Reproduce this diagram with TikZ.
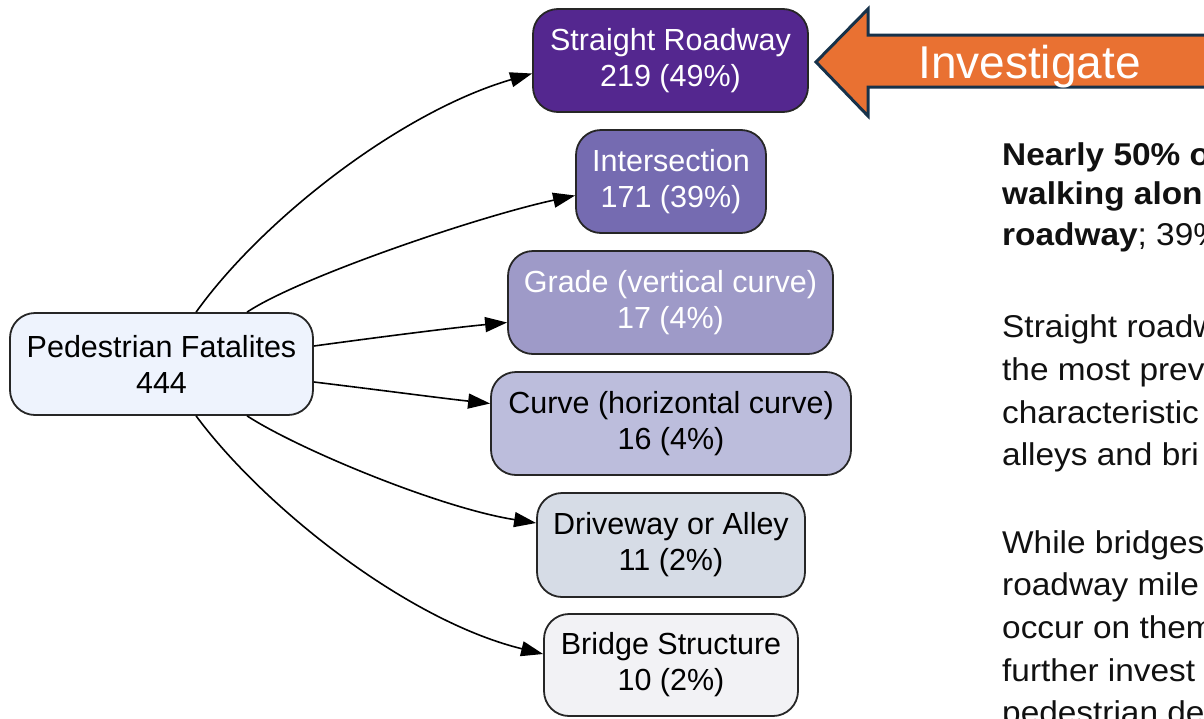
\documentclass[tikz,border=0pt]{standalone}
\usepackage{fontspec}
\setmainfont{Liberation Sans}
\newfontfamily\bodyfont[FakeStretch=1.06]{Liberation Sans}
\usetikzlibrary{arrows.meta,calc}
\definecolor{srcfill}{HTML}{EEF3FD}
\definecolor{fillA}{HTML}{54278F}
\definecolor{fillB}{HTML}{756BB1}
\definecolor{fillC}{HTML}{9E9AC8}
\definecolor{fillD}{HTML}{BCBDDC}
\definecolor{fillE}{HTML}{D6DCE6}
\definecolor{fillF}{HTML}{F2F2F5}
\definecolor{boxline}{HTML}{262626}
\definecolor{invorange}{HTML}{E97132}
\definecolor{invline}{HTML}{17324A}
\definecolor{bodytext}{HTML}{111111}
\begin{document}
\begin{tikzpicture}[x=1pt,y=-1pt,
  box/.style={draw=boxline, line width=1.8pt, rounded corners=25pt, align=center,
    font=\fontsize{30.5}{36}\selectfont, inner sep=0pt, minimum height=103pt},
  link/.style={-{Triangle[length=22pt,width=15pt]}, line width=1.6pt, black},
  body/.style={anchor=base west, inner sep=0pt, font=\bodyfont\fontsize{31.5}{36}\selectfont, text=bodytext}]
\useasboundingbox (0,0) rectangle (1204,718);
\clip (0,0) rectangle (1204,718);
\fill[white] (0,0) rectangle (1204,718);

% nodes
\node[box, fill=srcfill, text=black, minimum width=303pt, minimum height=102pt] (src) at (161.5,364) {Pedestrian Fatalites\\444};
\node[box, fill=fillA, text=white, minimum width=275pt] (s1) at (670.5,60.5) {Straight Roadway\\219 (49\%)};
\node[box, fill=fillB, text=white, minimum width=190pt] (s2) at (671,181.5) {Intersection\\171 (39\%)};
\node[box, fill=fillC, text=white, minimum width=325pt] (s3) at (670.5,302.5) {Grade (vertical curve)\\17 (4\%)};
\node[box, fill=fillD, text=black, minimum width=360pt] (s4) at (671,423.5) {Curve (horizontal curve)\\16 (4\%)};
\node[box, fill=fillE, text=black, minimum width=268pt, minimum height=104pt] (s5) at (671,545) {Driveway or Alley\\11 (2\%)};
\node[box, fill=fillF, text=black, minimum width=254pt, minimum height=102pt] (s6) at (671,665) {Bridge Structure\\10 (2\%)};

% connectors
\draw[link] ($(src.north west)+(187,0)$) .. controls (262,220) and (400,112) .. ($(s1.west)+(0,13)$);
\draw[link] ($(src.north west)+(238,0)$) .. controls (298,278) and (476,217) .. ($(s2.west)+(0,14)$);
\draw[link] ($(src.east)+(0,-18)$) .. controls (380,337) and (450,328) .. ($(s3.west)+(0,20)$);
\draw[link] ($(src.east)+(0,18)$) .. controls (380,390) and (440,398) .. ($(s4.west)+(0,-20)$);
\draw[link] ($(src.south west)+(238,0)$) .. controls (298,449) and (440,508) .. ($(s5.west)+(0,-22)$);
\draw[link] ($(src.south west)+(187,0)$) .. controls (262,505) and (405,620) .. ($(s6.west)+(0,-11)$);

% investigate arrow
\draw[fill=invorange, draw=invline, line width=3pt, line join=miter]
  (816,62) -- (868,9) -- (868,35) -- (1215,35) -- (1215,87) -- (868,87) -- (868,116) -- cycle;
\node[anchor=base west, inner sep=0pt, text=white, font=\fontsize{46}{50}\selectfont] (inv) at (918,78) {Investigate};

% right-hand text
\node[body] (p1a) at (1002,165) {\textbf{Nearly 50\% o}};
\node[body] (p1b) at (1002,204) {\textbf{walking alon}};
\node[body] (p1c) at (1002,245) {\textbf{roadway}; 39\%};
\node[body] (p2a) at (1002,337) {Straight roadw};
\node[body] (p2b) at (1002,380) {the most prev};
\node[body] (p2c) at (1002,423) {characteristic};
\node[body] (p2d) at (1002,465) {alleys and bri};
\node[body] (p3a) at (1002,553) {While bridges};
\node[body] (p3b) at (1002,595) {roadway mile};
\node[body] (p3c) at (1002,638) {occur on them};
\node[body] (p3d) at (1002,681) {further invest};
\node[body] (p3e) at (1002,723) {pedestrian de};
\end{tikzpicture}
\end{document}
